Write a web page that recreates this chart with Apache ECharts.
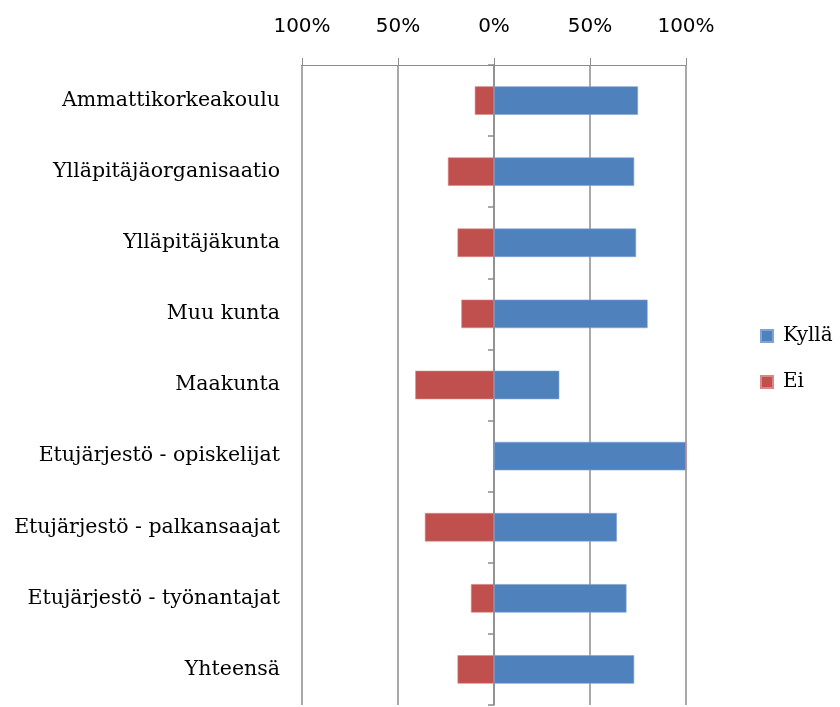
<!DOCTYPE html>
<html>
<head>
    <meta charset="utf-8">
    <title></title>
    <script src="https://cdn.jsdelivr.net/npm/echarts@6/dist/echarts.min.js"></script>
    <style>
        html, body { margin: 0; padding: 0; background: #fff; }
        #chart { width: 840px; height: 707px; }
    </style>
</head>
<body>
    <div id="chart"></div>
    <script>
    var categories = ["Ammattikorkeakoulu", "Ylläpitäjäorganisaatio", "Ylläpitäjäkunta", "Muu kunta", "Maakunta",
        "Etujärjestö - opiskelijat", "Etujärjestö - palkansaajat", "Etujärjestö - työnantajat", "Yhteensä"];
    // osuudet, %
    var kylla = [75, 73, 74, 80, 34, 100, 64, 69, 73];
    var ei = [10, 24, 19, 17, 41, 0, 36, 12, 19];
    var tickLabels = ["100%", "50%", "0%", "50%", "100%"];

    var serif = "'DejaVu Serif', 'Liberation Serif', serif";
    var gridColor = "#8c8c8c";

    var chart = echarts.init(document.getElementById("chart"), null, { renderer: "canvas" });
    chart.setOption({
        animation: false,
        grid: { left: 302, right: 154, top: 65, bottom: 2, containLabel: false },
        legend: {
            orient: "vertical",
            left: 760,
            top: 326,
            padding: 0,
            icon: "rect",
            itemWidth: 12,
            itemHeight: 12,
            itemGap: 26,
            textStyle: { fontFamily: serif, fontSize: 20, color: "#000", padding: [0, 0, 0, 5] },
            data: ["Kyllä", "Ei"]
        },
        xAxis: {
            type: "value",
            position: "top",
            min: -100,
            max: 100,
            interval: 50,
            axisLine: { show: true, lineStyle: { color: gridColor, width: 1 } },
            axisTick: { show: true, inside: false, length: 7, lineStyle: { color: gridColor } },
            splitLine: { show: true, lineStyle: { color: gridColor, width: 1.5 } },
            axisLabel: {
                margin: 28,
                fontFamily: "'DejaVu Sans', sans-serif",
                fontSize: 20,
                color: "#000",
                formatter: function(v) { return tickLabels[(v + 100) / 50]; }
            }
        },
        yAxis: [{
            type: "category",
            inverse: true,
            data: categories,
            axisLine: { show: false, onZero: false },
            axisTick: { show: false },
            axisLabel: { margin: 22, fontFamily: serif, fontSize: 20.5, color: "#000" }
        }, {
            type: "category",
            position: "left",
            inverse: true,
            data: categories,
            axisLine: { show: true, onZero: true, lineStyle: { color: gridColor, width: 1.5 } },
            axisTick: { show: true, length: 6, lineStyle: { color: gridColor, width: 1.5 } },
            axisLabel: { show: false }
        }],
        series: [{
            name: "Kyllä",
            type: "bar",
            stack: "v",
            barCategoryGap: "60%",
            itemStyle: { color: "#4f81bd", borderColor: "#7fa3d3", borderWidth: 0.6 },
            data: kylla
        }, {
            name: "Ei",
            type: "bar",
            stack: "v",
            itemStyle: { color: "#c0504d", borderColor: "#d98684", borderWidth: 0.6 },
            data: ei.map(function(v) { return -v; })
        }]
    });
    </script>
</body>
</html>
